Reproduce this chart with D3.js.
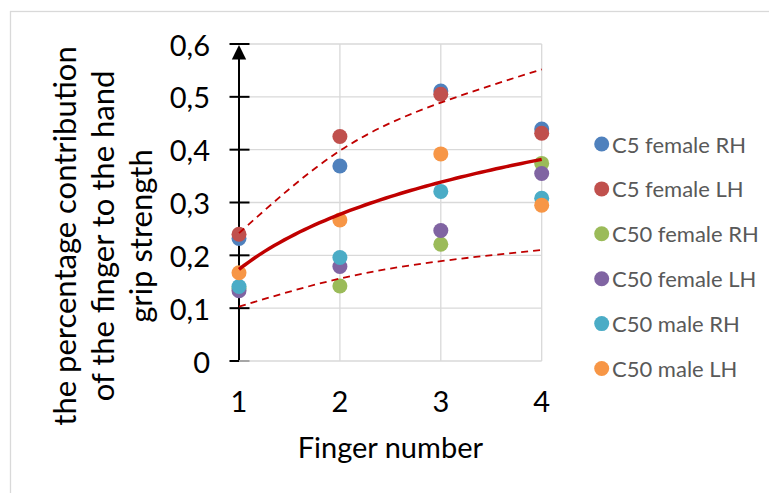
<!DOCTYPE html>
<html>
<head>
<meta charset="utf-8">
<script src="https://cdn.jsdelivr.net/npm/d3@7"></script>
<style>
  html, body { margin: 0; padding: 0; background: #ffffff; }
  svg { display: block; font-family: Lato, "Open Sans", sans-serif; }
</style>
</head>
<body>
<svg id="chart" width="769" height="493"></svg>
<script>
// Finger numbers on the x axis
const fingers = [1, 2, 3, 4];

// Share of each finger in the hand grip strength, per group
const seriesNames = ["C5 female RH", "C5 female LH", "C50 female RH", "C50 female LH", "C50 male RH", "C50 male LH"];
const c5FemaleRH  = [0.232, 0.369, 0.511, 0.439];
const c5FemaleLH  = [0.240, 0.425, 0.505, 0.431];
const c50FemaleRH = [0.137, 0.142, 0.221, 0.374];
const c50FemaleLH = [0.133, 0.179, 0.247, 0.355];
const c50MaleRH   = [0.141, 0.196, 0.321, 0.308];
const c50MaleLH   = [0.167, 0.267, 0.392, 0.295];
const seriesColors = ["#4F81BD", "#C0504D", "#9BBB59", "#8064A2", "#4BACC6", "#F79646"];

// Upper and lower limit curves (dashed)
const upperLimit = [0.242, 0.398, 0.489, 0.552];
const lowerLimit = [0.103, 0.156, 0.189, 0.210];

// Axis ticks
const yTicks = [0, 0.1, 0.2, 0.3, 0.4, 0.5, 0.6];
const yTickLabels = ["0", "0,1", "0,2", "0,3", "0,4", "0,5", "0,6"];
const xTickLabels = ["1", "2", "3", "4"];

const yTitleLines = ["the percentage contribution", "of the finger to the hand", "grip strength"];
const xTitle = "Finger number";

const seriesValues = [c5FemaleRH, c5FemaleLH, c50FemaleRH, c50FemaleLH, c50MaleRH, c50MaleLH];
const series = seriesNames.map((name, i) => ({
  name, color: seriesColors[i],
  points: fingers.map((f, j) => ({ x: f, y: seriesValues[i][j] }))
}));

const svg = d3.select("#chart");

// Chart frame
svg.append("rect")
  .attr("x", 10.5).attr("y", 11.5)
  .attr("width", 800).attr("height", 520)
  .attr("fill", "none").attr("stroke", "#d9d9d9").attr("stroke-width", 1.3);

const x = d3.scaleLinear().domain([1, 4]).range([239, 541.7]);
const y = d3.scaleLinear().domain([0, 0.6]).range([361, 44]);

// Gridlines
const grid = svg.append("g");
grid.selectAll("line.h").data(yTicks).join("line")
  .attr("x1", x(1)).attr("x2", x(4))
  .attr("y1", d => y(d)).attr("y2", d => y(d))
  .attr("stroke", "#d9d9d9").attr("stroke-width", 1.3);
grid.selectAll("line.v").data(fingers.slice(1)).join("line")
  .attr("x1", d => x(d)).attr("x2", d => x(d))
  .attr("y1", y(0)).attr("y2", y(0.6))
  .attr("stroke", "#d9d9d9").attr("stroke-width", 1.3);

// Y axis with crossing ticks and an arrow head
const yAxisG = svg.append("g").attr("transform", `translate(${x(1)},0)`);
yAxisG.call(d3.axisLeft(y).tickValues(yTicks).tickSize(0).tickFormat(""));
yAxisG.select(".domain").remove();
yAxisG.append("line")
  .attr("x1", 0).attr("x2", 0).attr("y1", y(0)).attr("y2", y(0.6) + 4)
  .attr("stroke", "#000").attr("stroke-width", 2);
yAxisG.selectAll("line.tk").data(yTicks.slice(1)).join("line")
  .attr("x1", -9.5).attr("x2", 10.5)
  .attr("y1", d => y(d)).attr("y2", d => y(d))
  .attr("stroke", "#000").attr("stroke-width", 2);
yAxisG.append("line")
  .attr("x1", -9.5).attr("x2", 0).attr("y1", y(0)).attr("y2", y(0))
  .attr("stroke", "#000").attr("stroke-width", 2);
yAxisG.append("line")
  .attr("x1", 0).attr("x2", 10.5).attr("y1", y(0)).attr("y2", y(0))
  .attr("stroke", "#a6a6a6").attr("stroke-width", 2);
yAxisG.append("path")
  .attr("d", `M0,${y(0.6) + 1} L-7.2,${y(0.6) + 15.5} L7.2,${y(0.6) + 15.5} Z`)
  .attr("fill", "#000");

// Tick labels
svg.append("g").selectAll("text").data(yTicks).join("text")
  .attr("x", 210).attr("y", d => y(d))
  .attr("text-anchor", "end").attr("dominant-baseline", "central")
  .attr("font-size", 29).attr("fill", "#000")
  .text((d, i) => yTickLabels[i]);
svg.append("g").selectAll("text").data(fingers).join("text")
  .attr("x", d => x(d)).attr("y", 412)
  .attr("text-anchor", "middle")
  .attr("font-size", 29).attr("fill", "#000")
  .text((d, i) => xTickLabels[i]);

// Axis titles
svg.append("text")
  .attr("x", x(2.5)).attr("y", 458)
  .attr("text-anchor", "middle").attr("font-size", 29).attr("fill", "#000")
  .text(xTitle);
const yTitle = svg.append("text")
  .attr("transform", "translate(0,236) rotate(-90)")
  .attr("text-anchor", "middle").attr("font-size", 31).attr("fill", "#000");
yTitle.selectAll("tspan").data(yTitleLines).join("tspan")
  .attr("x", 0).attr("y", (d, i) => 76 + i * 38)
  .text(d => d);

// Data markers
const marks = svg.append("g");
series.forEach(s => {
  marks.append("g").selectAll("circle").data(s.points).join("circle")
    .attr("cx", d => x(d.x)).attr("cy", d => y(d.y)).attr("r", 7.5)
    .attr("fill", s.color);
});

// Logarithmic trend line fitted to all points
const allPts = series.flatMap(s => s.points);
const lx = allPts.map(p => Math.log(p.x));
const mx = d3.mean(lx), my = d3.mean(allPts, p => p.y);
const b = d3.sum(allPts, (p, i) => (lx[i] - mx) * (p.y - my)) / d3.sum(lx, v => (v - mx) ** 2);
const a = my - b * mx;
const trendPts = d3.range(0, 61).map(i => {
  const xv = 1 + i * 3 / 60;
  return { x: xv, y: a + b * Math.log(xv) };
});
const line = d3.line().x(d => x(d.x)).y(d => y(d.y));
svg.append("path").datum(trendPts).attr("d", line)
  .attr("fill", "none").attr("stroke", "#C00000").attr("stroke-width", 3.5);

// Limit curves
const curveLine = d3.line().x(d => x(d.x)).y(d => y(d.y)).curve(d3.curveNatural);
[upperLimit, lowerLimit].forEach(vals => {
  svg.append("path").datum(fingers.map((f, i) => ({ x: f, y: vals[i] })))
    .attr("d", curveLine)
    .attr("fill", "none").attr("stroke", "#C00000").attr("stroke-width", 1.8)
    .attr("stroke-dasharray", "7,5");
});

// Legend
const legend = svg.append("g");
series.forEach((s, i) => {
  const cy = 144 + i * 44.9;
  legend.append("circle").attr("cx", 601.7).attr("cy", cy).attr("r", 7.5).attr("fill", s.color);
  legend.append("text").attr("x", 612).attr("y", cy)
    .attr("dominant-baseline", "central")
    .attr("font-size", 22).attr("fill", "#595959")
    .text(s.name);
});
</script>
</body>
</html>
